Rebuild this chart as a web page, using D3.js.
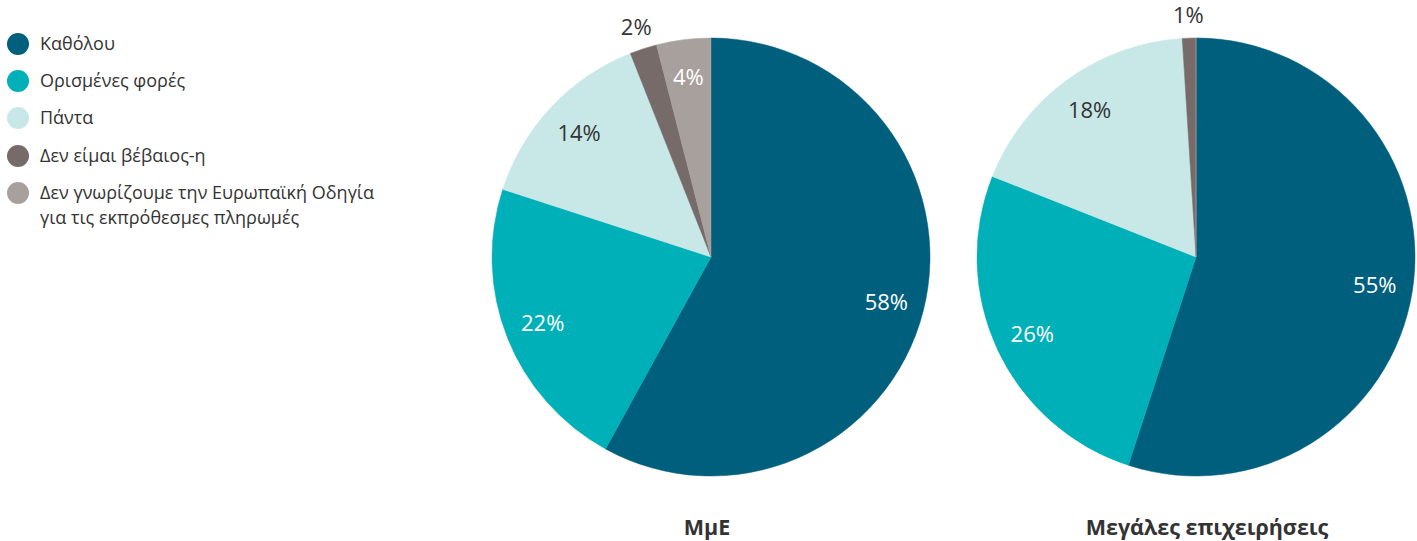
<!DOCTYPE html>
<html><head><meta charset="utf-8">
<script src="https://cdn.jsdelivr.net/npm/d3@7"></script>
<style>body{margin:0;background:#fff;} svg{display:block;}</style>
</head><body>
<svg id="chart" width="1417" height="541"></svg>
<script>
const categories = ["Καθόλου","Ορισμένες φορές","Πάντα","Δεν είμαι βέβαιος-η","Δεν γνωρίζουμε την Ευρωπαϊκή Οδηγία για τις εκπρόθεσμες πληρωμές"];
const legendLines = [["Καθόλου"],["Ορισμένες φορές"],["Πάντα"],["Δεν είμαι βέβαιος-η"],["Δεν γνωρίζουμε την Ευρωπαϊκή Οδηγία","για τις εκπρόθεσμες πληρωμές"]];
const colors = ["#005f7c","#00b0b9","#c8e8e8","#766b69","#a8a09c"];
const labelColors = ["#ffffff","#ffffff","#333333","#333333","#ffffff"];
const pieTitles = ["ΜμΕ","Μεγάλες επιχειρήσεις"];
const smeValues = [58,22,14,2,4];
const largeValues = [55,26,18,1,0];

const svg = d3.select("#chart");
const font = "'Open Sans', sans-serif";

// legend
const legendY = [44,81,118,156,193];
const lg = svg.append("g");
categories.forEach((c,i)=>{
  lg.append("circle").attr("cx",18).attr("cy",legendY[i]).attr("r",11).attr("fill",colors[i]);
  const t = lg.append("text").attr("x",40).attr("y",legendY[i]+6)
    .attr("font-family",font).attr("font-size",18).attr("fill","#333");
  legendLines[i].forEach((l,j)=>{
    t.append("tspan").attr("x",40).attr("dy", j===0?0:25).text(l);
  });
});

const R = 219;
const pies = [
  {values: smeValues, cx: 711, cy: 257, title: pieTitles[0], tx: 707},
  {values: largeValues, cx: 1196, cy: 257, title: pieTitles[1], tx: 1207}
];
const pie = d3.pie().sort(null).value(d=>d);
const arc = d3.arc().innerRadius(0).outerRadius(R);
const inLabel = d3.arc().innerRadius(181).outerRadius(181);
const outLabel = d3.arc().innerRadius(242).outerRadius(242);

pies.forEach(p=>{
  const g = svg.append("g").attr("transform",`translate(${p.cx},${p.cy})`);
  const arcs = pie(p.values);
  g.selectAll("path").data(arcs).join("path")
    .attr("d",arc).attr("fill",(d,i)=>colors[i])
    .attr("stroke",(d,i)=>colors[i]).attr("stroke-width",0.5);
  g.selectAll("text.lbl").data(arcs.filter(d=>d.data>0)).join("text")
    .attr("class","lbl")
    .attr("transform",d=>{
      const c = (d.data<3 ? outLabel : inLabel).centroid(d);
      return `translate(${c[0]},${c[1]})`;
    })
    .attr("text-anchor","middle").attr("dy","0.35em")
    .attr("font-family",font).attr("font-size",22)
    .attr("fill",d=> d.data<3 ? "#333333" : labelColors[d.index])
    .text(d=>d.data+"%");
  svg.append("text").attr("x",p.tx).attr("y",535).attr("text-anchor","middle")
    .attr("font-family",font).attr("font-size",21.5).attr("font-weight","bold")
    .attr("fill","#333").text(p.title);
});
</script>
</body></html>
